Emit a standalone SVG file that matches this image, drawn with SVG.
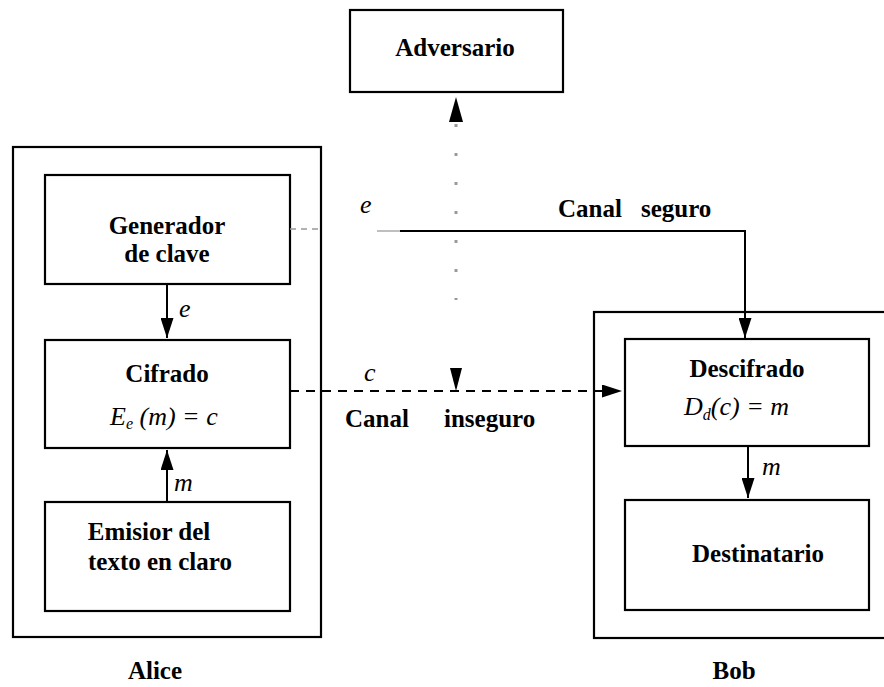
<svg xmlns="http://www.w3.org/2000/svg" width="884" height="687" viewBox="0 0 884 687">
<style>
.box{fill:none;stroke:#000;stroke-width:2.2}
.t{font-family:"Liberation Serif","Times New Roman",serif;font-weight:bold;font-size:25px;fill:#000;text-anchor:middle}
.s{text-anchor:start}
.m{font-family:"Liberation Serif","Times New Roman",serif;font-style:italic;font-size:26px;fill:#000}
.ln{fill:none;stroke:#000;stroke-width:2}
</style>
<defs>
<marker id="ah" viewBox="0 0 20 13" refX="20" refY="6.5" markerWidth="20" markerHeight="13" markerUnits="userSpaceOnUse" orient="auto">
<path d="M0,0 L20,6.5 L0,13 Z" fill="#000"/>
</marker>
</defs>
<rect x="0" y="0" width="884" height="687" fill="#fff"/>
<g id="adversario">
<rect class="box" x="350" y="10" width="213" height="82"/>
<text class="t" x="455" y="56">Adversario</text>
</g>
<g id="alice">
<rect class="box" x="13" y="147" width="308" height="490"/>
<text class="t" x="155" y="679">Alice</text>
</g>
<g id="generador">
<rect class="box" x="45" y="175" width="245" height="109"/>
<text class="t" x="167" y="234">Generador</text>
<text class="t" x="167" y="262">de clave</text>
</g>
<g id="cifrado">
<rect class="box" x="45" y="340" width="245" height="108"/>
<text class="t" x="167" y="382">Cifrado</text>
<text class="m" x="110" y="425">E<tspan font-size="16" dy="4">e</tspan><tspan dy="-4"> (m) = c</tspan></text>
</g>
<g id="emisor">
<rect class="box" x="45" y="502" width="245" height="109"/>
<text class="t" x="149" y="540">Emisior del</text>
<text class="t" x="160" y="570">texto en claro</text>
</g>
<g id="bob">
<rect class="box" x="594" y="312" width="300" height="326"/>
<text class="t" x="734" y="679">Bob</text>
</g>
<g id="descifrado">
<rect class="box" x="625" y="339" width="244" height="107"/>
<text class="t" x="747" y="377">Descifrado</text>
<text class="m" x="684" y="415">D<tspan font-size="16" dy="5">d</tspan><tspan dy="-5">(c) = m</tspan></text>
</g>
<g id="destinatario">
<rect class="box" x="625" y="500" width="244" height="110"/>
<text class="t" x="758" y="562">Destinatario</text>
</g>
<g id="connectors">
<line class="ln" x1="167" y1="284" x2="167" y2="338" marker-end="url(#ah)"/>
<text class="m" x="179" y="317">e</text>
<line class="ln" x1="167" y1="502" x2="167" y2="450" marker-end="url(#ah)"/>
<text class="m" x="174" y="491">m</text>
<line class="ln" x1="748" y1="446" x2="748" y2="498" marker-end="url(#ah)"/>
<text class="m" x="762" y="475">m</text>
<line x1="290" y1="229" x2="322" y2="229" stroke="#999" stroke-width="1.5" stroke-dasharray="6 5"/>
<line x1="377" y1="231" x2="400" y2="231" stroke="#aaa" stroke-width="1.5"/>
<polyline class="ln" points="400,231 745,231 745,338" marker-end="url(#ah)"/>
<text class="m" x="360" y="213">e</text>
<text class="t s" x="558" y="217">Canal</text>
<text class="t s" x="641" y="217">seguro</text>
<line x1="290" y1="391" x2="622" y2="391" stroke="#000" stroke-width="2" stroke-dasharray="9 7" marker-end="url(#ah)"/>
<text class="m" x="364" y="381">c</text>
<text class="t s" x="345" y="427">Canal</text>
<text class="t s" x="444" y="427">inseguro</text>
<line x1="456" y1="124" x2="456" y2="300" stroke="#999" stroke-width="3" stroke-dasharray="3 26"/>
<path d="M456,97 L463,122 L449,122 Z" fill="#000"/>
<path d="M456,391 L462,368 L450,368 Z" fill="#000"/>
</g>
</svg>
